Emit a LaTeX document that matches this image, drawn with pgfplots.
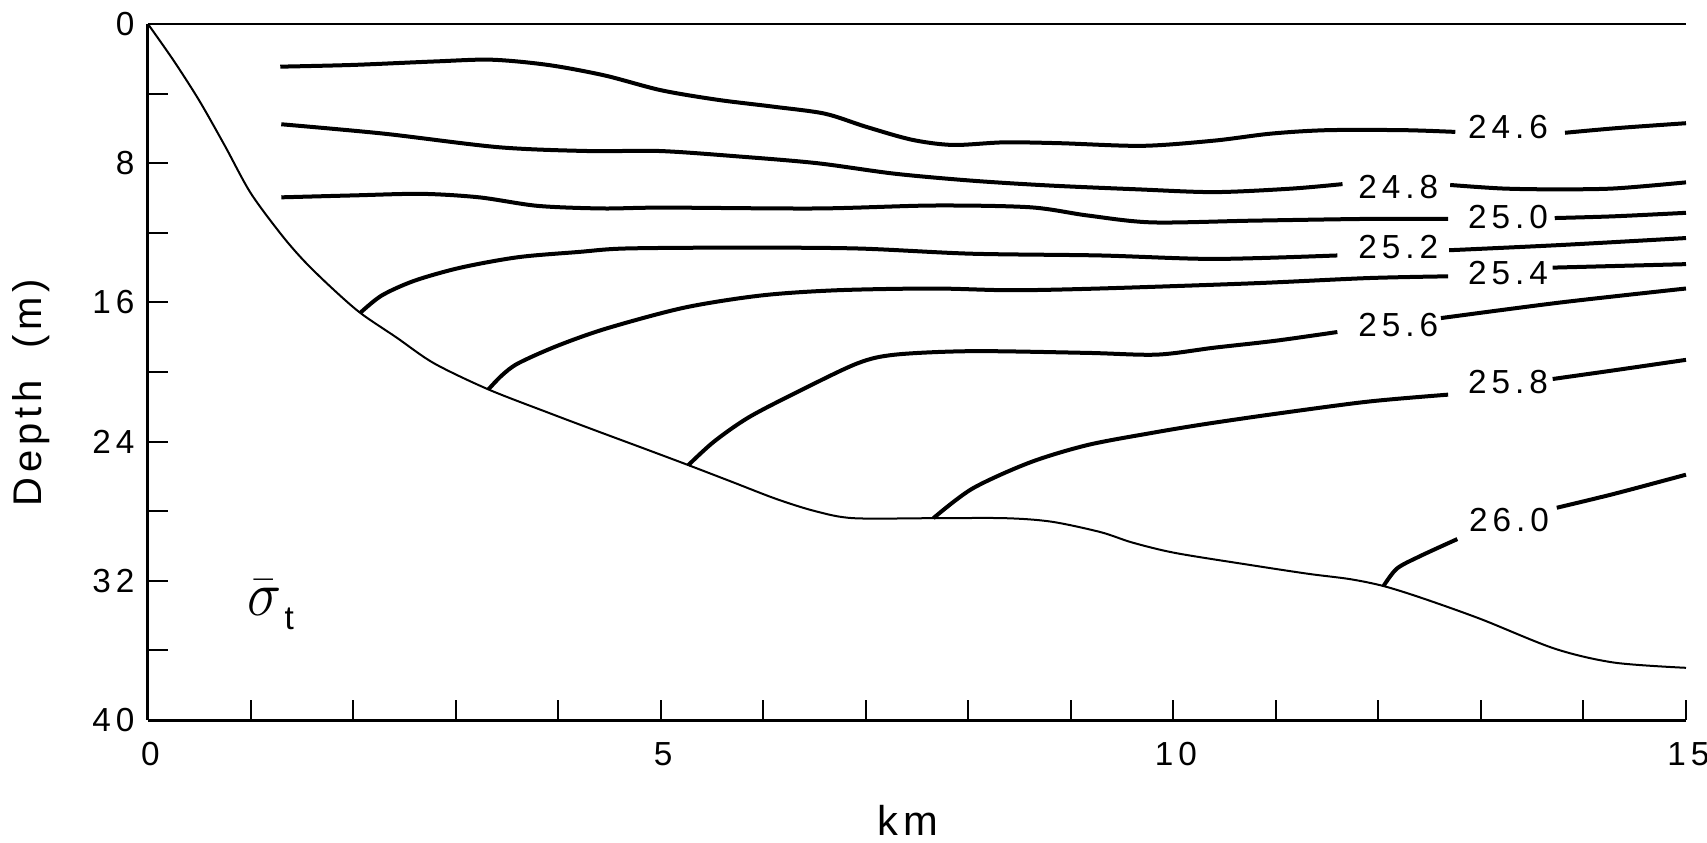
\documentclass[border=0pt]{standalone}
\usepackage{fontspec}
\setmainfont{Liberation Sans}
\newfontfamily\numfamily[LetterSpace=15]{Liberation Sans}
\newfontfamily\labfamily[LetterSpace=12]{Liberation Sans}
\usepackage{pgfplots}
\pgfplotsset{compat=1.18}

\newcommand{\numfont}{\numfamily\fontsize{10}{12}\selectfont}

\begin{document}
\begin{tikzpicture}[
  iso/.style={black, line width=1.2pt, smooth},
  lab/.style={font=\numfont, inner sep=0pt, anchor=center, xshift=0.75pt},
]
\useasboundingbox (-44.4pt,-36.6pt) rectangle (467.7pt,216pt);
\begin{axis}[
  at={(0pt,0pt)}, anchor=south west,
  scale only axis, width=461.4pt, height=208.8pt,
  xmin=0, xmax=15, ymin=0, ymax=40, y dir=reverse,
  axis x line*=bottom, axis y line*=left,
  axis line style={-, line width=0.9pt},
  xtick={0,5,10,15}, minor xtick={1,2,3,4,6,7,8,9,11,12,13,14},
  ytick={0,8,16,24,32,40}, minor ytick={4,12,20,28,36},
  tick align=inside,
  major tick length=6pt, minor tick length=6pt,
  tick style={black, line width=0.6pt},
  /pgf/number format/assume math mode=true,
  tick label style={font=\numfont},
  xticklabel style={anchor=center, inner sep=0pt, yshift=-10.35pt, xshift=0.75pt},
  yticklabel style={anchor=east, inner sep=0pt, xshift=-3.9pt},
  xlabel={km}, ylabel={Depth\ \ (m)},
  xlabel style={at={(axis description cs:0.494,0)}, anchor=center, yshift=-30pt,
    font=\labfamily\fontsize{12.5}{14}\selectfont},
  ylabel style={at={(axis description cs:0,0.47)}, anchor=center, yshift=35.1pt,
    font=\labfamily\fontsize{12}{14}\selectfont},
  clip=false,
]

% sea surface
\addplot[black, line width=0.8pt] coordinates {(0,0) (15,0)};

% bottom profile
\addplot[black, line width=0.6pt, smooth] coordinates {
  (0,0) (0.25,2.1) (0.50,4.4) (0.75,7.0) (1.00,9.7) (1.30,12.1) (1.52,13.6)
  (1.78,15.1) (2.07,16.6) (2.42,18.0) (2.79,19.5) (3.32,21.0) (3.91,22.35)
  (4.36,23.35) (4.84,24.4) (5.27,25.35) (5.69,26.3) (6.13,27.3) (6.51,28.0)
  (6.88,28.4) (7.66,28.4) (8.36,28.4) (8.81,28.6) (9.29,29.2) (9.60,29.8)
  (10.02,30.4) (10.76,31.1) (11.32,31.6) (11.72,31.9) (12.05,32.3) (12.43,33.0)
  (13.00,34.2) (13.72,35.9) (14.30,36.7) (15.00,37.0)};

% 24.6
\addplot[iso] coordinates {
  (1.29,2.45) (2.0,2.35) (2.8,2.15) (3.35,2.05) (3.9,2.35) (4.45,2.95) (5.0,3.8)
  (5.55,4.35) (6.1,4.75) (6.6,5.15) (7.0,5.9) (7.45,6.65) (7.85,6.95) (8.35,6.8)
  (8.9,6.85) (9.7,7.0) (10.4,6.7) (10.95,6.3) (11.5,6.1) (12.25,6.1) (12.75,6.2)};
\addplot[iso] coordinates {(13.82,6.25) (14.33,5.98) (15.0,5.7)};
% 24.8
\addplot[iso] coordinates {
  (1.3,5.76) (2.3,6.3) (3.42,7.08) (4.3,7.3) (5.0,7.3) (5.78,7.62) (6.53,8.0)
  (7.28,8.6) (8.03,9.0) (8.79,9.28) (9.65,9.5) (10.4,9.66) (11.15,9.46) (11.65,9.2)};
\addplot[iso] coordinates {(12.7,9.25) (13.2,9.45) (13.7,9.5) (14.3,9.45) (15.0,9.1)};
% 25.0
\addplot[iso] coordinates {
  (1.3,9.96) (2.0,9.85) (2.67,9.76) (3.23,9.96) (3.8,10.45) (4.43,10.6) (5.03,10.55)
  (6.53,10.6) (7.66,10.43) (8.6,10.53) (9.16,11.0) (9.79,11.4) (10.78,11.3)
  (11.9,11.2) (12.68,11.2)};
\addplot[iso] coordinates {(13.72,11.15) (14.3,11.05) (15.0,10.85)};
% 25.2
\addplot[iso] coordinates {
  (2.07,16.6) (2.28,15.6) (2.6,14.75) (3.05,14.0) (3.61,13.4) (4.2,13.1)
  (4.66,12.9) (5.78,12.85) (6.92,12.9) (8.03,13.2) (9.28,13.3) (10.4,13.5)
  (11.6,13.3)};
\addplot[iso] coordinates {(12.69,13.0) (13.78,12.7) (15.0,12.3)};
% 25.4
\addplot[iso] coordinates {
  (3.32,21.0) (3.45,20.2) (3.61,19.5) (3.99,18.5) (4.47,17.5) (5.23,16.3)
  (5.98,15.6) (6.72,15.3) (7.66,15.2) (8.42,15.3) (9.28,15.2) (10.78,14.9)
  (11.9,14.6) (12.68,14.5)};
\addplot[iso] coordinates {(13.7,14.0) (15.0,13.8)};
% 25.6
\addplot[iso] coordinates {
  (5.27,25.35) (5.52,24.0) (5.86,22.6) (6.35,21.1) (6.92,19.5) (7.29,19.0)
  (8.04,18.8) (9.16,18.9) (9.84,19.0) (10.4,18.6) (11.0,18.2) (11.6,17.7)};
\addplot[iso] coordinates {(12.61,16.9) (13.78,16.0) (15.0,15.2)};
% 25.8
\addplot[iso] coordinates {
  (7.66,28.4) (8.04,26.7) (8.6,25.2) (9.16,24.2) (9.79,23.5) (10.3,23.0)
  (11.0,22.4) (11.9,21.7) (12.68,21.3)};
\addplot[iso] coordinates {(13.7,20.4) (14.3,19.9) (15.0,19.3)};
% 26.0
\addplot[iso] coordinates {
  (12.05,32.3) (12.18,31.3) (12.4,30.6) (12.77,29.6)};
\addplot[iso] coordinates {(13.74,27.8) (14.3,27.0) (15.0,25.9)};

% contour labels
\node[lab] at (axis cs:13.24,5.94) {24.6};
\node[lab] at (axis cs:12.17,9.37) {24.8};
\node[lab] at (axis cs:13.24,11.09) {25.0};
\node[lab] at (axis cs:12.17,12.8) {25.2};
\node[lab] at (axis cs:13.24,14.3) {25.4};
\node[lab] at (axis cs:12.17,17.3) {25.6};
\node[lab] at (axis cs:13.24,20.56) {25.8};
\node[lab] at (axis cs:13.25,28.5) {26.0};

% field name
\node[anchor=base west, inner sep=0pt] at (axis cs:0.96,33.97)
  {\scalebox{1}[1.1]{\fontsize{16}{16}\selectfont$\bar{\sigma}$}\hspace{1pt}\raisebox{-4.3pt}{\fontsize{10}{10}\selectfont t}};
\end{axis}
\end{tikzpicture}
\end{document}
